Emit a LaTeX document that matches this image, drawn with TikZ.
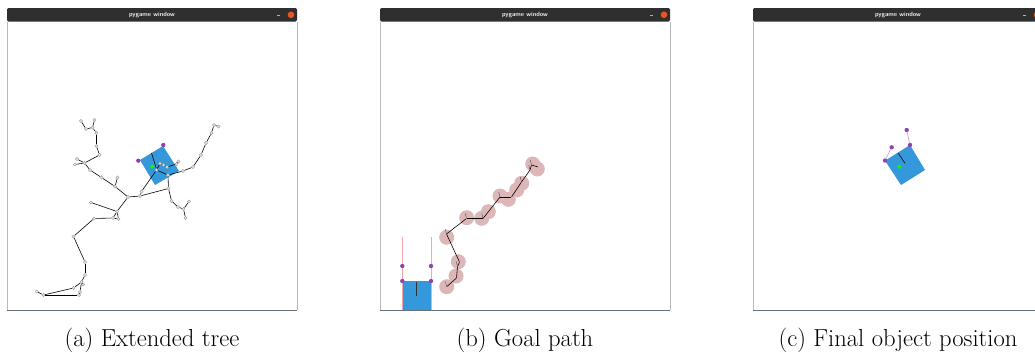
\documentclass[tikz,border=0pt]{standalone}
\definecolor{pgblue}{HTML}{3498DB}
\definecolor{pgpurple}{HTML}{8E44AD}
\definecolor{pglilac}{HTML}{C9A3DA}
\definecolor{pgpink}{HTML}{DDB7B7}
\definecolor{pgrose}{HTML}{F2A8A8}
\definecolor{pgbar}{HTML}{2F2F2F}
\definecolor{pgorange}{HTML}{E95420}
\definecolor{pgfloor}{HTML}{66717A}
\tikzset{
  vtx/.style={circle, draw=gray!85, fill=gray!20, line width=0.25pt, inner sep=0pt, minimum size=0.1cm},
  edge/.style={black, line width=0.5pt},
  pdot/.style={circle, fill=pgpurple, inner sep=0pt, minimum size=0.13cm},
  gdot/.style={circle, fill=green, inner sep=0pt, minimum size=0.12cm},
  blob/.style={circle, fill=pgpink, inner sep=0pt, minimum size=0.45cm},
  wp/.style={inner sep=0pt, minimum size=0pt},
  caption/.style={font=\fontsize{21}{25}\selectfont},
}
\begin{document}
\begin{tikzpicture}[x=0.03cm, y=-0.03cm]
  \clip (0,0) rectangle (1035,354);
  \fill[white] (0,0) rectangle (1035,354);
  % the three pygame windows
  \foreach \wx/\nm in {7/wa, 380/wb, 753/wc}{
    \draw[gray!55, line width=0.4pt] (\wx,21.5) -- (\wx,310) (\wx+290,21.5) -- (\wx+290,310);
    \fill[pgbar, rounded corners=1.2pt] (\wx,8) rectangle (\wx+290,21.5);
    \draw[pgfloor, line width=1.3pt] (\wx,310.5) -- (\wx+290,310.5);
    \node[text=gray!15, font=\fontsize{5.4}{6}\selectfont\sffamily\bfseries] (\nm title) at (\wx+145,14.8) {pygame window};
    \node[circle, fill=pgorange, inner sep=0pt, minimum size=0.2cm] (\nm close) at (\wx+284,14.8) {};
    \draw[gray!60, line width=0.5pt] (\wx+270,15.2) -- (\wx+273,15.2);
  }

  % (a) extended tree
  \coordinate (sqa1) at (140,160);
  \coordinate (sqa2) at (163,146);
  \coordinate (sqa3) at (179,171);
  \coordinate (sqa4) at (155,185);
  \fill[pgblue] (sqa1)--(sqa2)--(sqa3)--(sqa4)--cycle;
  \draw[black, line width=0.5pt] (151.5,153) -- (156.5,169);
  \node[pdot] (pa1) at (138.3,160.7) {};
  \node[pdot] (pa2) at (163.3,145) {};
  \node[gdot] (ga) at (152.3,166.5) {};
  \foreach \n/\x/\y in {t0/36.7/291.5, t1/43.5/295, t2/79/295, t3/80/292, t4/73.5/288,
      t5/83/284.5, t6/81.5/282, t7/85/275, t8/85/262, t9/73.5/236.5, t10/94/218.5,
      t11/113/218, t12/118.5/219, t13/117/211.5, t14/91/202.5, t15/128/197,
      t16/140/196, t17/141.5/191.5, t18/156.5/170, t19/160/163.5, t20/163.5/165,
      t21/167/167, t22/176.5/164, t23/178.5/161.5, t24/168/175, t25/168.5/188.5,
      t26/171.5/201, t27/178/207, t28/183.5/209, t29/189/201.5, t30/185.5/218,
      t31/183/171, t32/193/167, t33/201/155, t34/206/143, t35/211.5/133,
      t36/214/125, t37/218.5/126.5, t38/115/186.5, t39/117.5/177.5, t40/101.5/177.5,
      t41/90/170, t42/84.5/163, t43/77/159, t44/75/164.5, t45/99.5/155,
      t46/96.5/146, t47/96.5/133, t48/92.5/127.5, t49/94.5/120, t50/86/129, t51/81/121}
    \node[vtx] (\n) at (\x,\y) {};
  \foreach \a/\b in {t0/t1, t1/t2, t1/t4, t4/t6, t2/t3, t3/t6, t6/t5, t6/t7, t7/t8,
      t8/t9, t9/t10, t10/t11, t11/t12, t11/t13, t12/t13, t13/t14, t13/t15, t15/t16,
      t16/t17, t17/t18, t18/t19, t19/t20, t20/t21, t21/t22, t22/t23, t18/t24,
      t16/t25, t25/t24, t25/t26, t26/t27, t27/t28, t28/t29, t28/t30,
      t24/t31, t31/t32, t32/t33, t33/t34, t34/t35, t35/t36, t36/t37,
      t15/t38, t38/t39, t38/t40, t40/t41, t41/t42, t42/t43, t42/t44, t42/t45,
      t45/t46, t46/t47, t47/t48, t48/t49, t48/t50, t50/t51}
    \draw[edge] (\a) -- (\b);
  \node[caption] (capa) at (152,340) {(a) Extended tree};

  % (b) goal path
  \foreach \x/\y in {446.7/286.7, 456/276, 458.3/261.7, 446.7/237.3, 466.7/217.7,
      481.7/218.3, 488.3/211.7, 500/196, 508.3/199.3, 516.7/190, 521.7/183.3,
      532.7/164, 537.3/169}
    \node[blob] at (\x,\y) {};
  \foreach \n/\x/\y in {g1/446.7/286.7, g2/456.5/278, g3/457.5/266.5, g4/459.5/262,
      g5/446.5/234, g6/466.5/218.5, g7/483/218.5, g8/500/197, g9/511.5/197,
      g10/521.5/182, g11/530/170, g12/531.5/165, g13/538/167}
    \node[wp] (\n) at (\x,\y) {};
  \foreach \a/\b in {g1/g2, g2/g3, g3/g4, g4/g5, g5/g6, g6/g7, g7/g8, g8/g9,
      g9/g10, g10/g11, g11/g12, g12/g13}
    \draw[edge] (\a) -- (\b);
  \foreach \n in {g1, g3, g5, g6, g7, g8, g10, g11, g12}
    \draw[black!75, line width=0.3pt] (\n) -- ++(-1.2,-5);
  \fill[pgblue] (402.3,281) rectangle (431,310);
  \draw[pgrose, line width=0.5pt] (402.3,237) -- (402.3,310) (431,237) -- (431,310);
  \draw[black!80, line width=1pt] (416.7,282) -- (416.7,295.5);
  \foreach \n/\x/\y in {pb1/402.3/266, pb2/431/266, pb3/402.3/281, pb4/431/281}
    \node[pdot] (\n) at (\x,\y) {};
  \node[caption] (capb) at (525,340) {(b) Goal path};

  % (c) final object position
  \coordinate (sqc1) at (885,160.7);
  \coordinate (sqc2) at (910,145);
  \coordinate (sqc3) at (925,170);
  \coordinate (sqc4) at (901,185);
  \fill[pgblue] (sqc1)--(sqc2)--(sqc3)--(sqc4)--cycle;
  \node[pdot] (pc1) at (885,160.5) {};
  \node[pdot] (pc2) at (910,145) {};
  \node[pdot] (pc3) at (891.7,147.3) {};
  \node[pdot] (pc4) at (906.7,130) {};
  \draw[pglilac, line width=0.6pt] (pc1) -- (pc3) (pc2) -- (pc4);
  \draw[black, line width=0.5pt] (898.3,153.3) -- (905,163.3);
  \node[gdot] (gc) at (899.3,166.7) {};
  \node[caption] (capc) at (898,340) {(c) Final object position};
\end{tikzpicture}
\end{document}
